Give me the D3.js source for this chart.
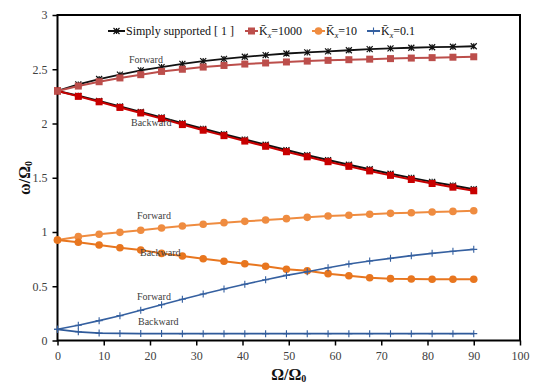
<!DOCTYPE html>
<html><head><meta charset="utf-8">
<script src="https://cdn.jsdelivr.net/npm/d3@7"></script>
<style>
html,body{margin:0;padding:0;background:#fff;}
svg{display:block;font-family:"Liberation Serif","Times New Roman",serif;}
svg text{font-family:"Liberation Serif","Times New Roman",serif;}
</style></head>
<body>
<svg id="chart" width="534" height="384"></svg>
<script>
const xValues = [0,4.5,9,13.5,18,22.5,27,31.5,36,40.5,45,49.5,54,58.5,63,67.5,72,76.5,81,85.5,90];
const xTicks = [0,10,20,30,40,50,60,70,80,90,100];
const yTicks = [0,0.5,1,1.5,2,2.5,3];

const ssForward  = [2.30,2.36,2.41,2.45,2.49,2.52,2.55,2.575,2.595,2.615,2.63,2.645,2.655,2.665,2.675,2.685,2.692,2.698,2.703,2.707,2.712];
const ssBackward = [2.30,2.255,2.207,2.157,2.107,2.056,2.003,1.951,1.901,1.852,1.804,1.755,1.708,1.663,1.62,1.578,1.537,1.499,1.462,1.428,1.395];
const k1000Forward  = [2.30,2.345,2.385,2.42,2.45,2.48,2.50,2.52,2.535,2.548,2.558,2.567,2.575,2.582,2.588,2.593,2.598,2.603,2.607,2.611,2.615];
const k1000Backward = [2.30,2.25,2.20,2.148,2.097,2.045,1.99,1.938,1.888,1.838,1.79,1.74,1.693,1.648,1.605,1.563,1.522,1.484,1.447,1.413,1.38];
const k10Forward  = [0.926,0.957,0.979,0.997,1.016,1.037,1.055,1.071,1.086,1.098,1.11,1.123,1.135,1.147,1.154,1.163,1.172,1.178,1.184,1.19,1.196];
const k10Backward = [0.926,0.905,0.88,0.855,0.834,0.803,0.779,0.754,0.73,0.708,0.684,0.656,0.643,0.616,0.597,0.579,0.57,0.567,0.564,0.564,0.564];
const k01Forward  = [0.103,0.14,0.183,0.229,0.278,0.33,0.38,0.429,0.475,0.518,0.56,0.6,0.634,0.671,0.705,0.733,0.757,0.782,0.803,0.822,0.84];
const k01Backward = [0.103,0.08,0.068,0.065,0.064,0.064,0.063,0.063,0.063,0.063,0.063,0.063,0.063,0.063,0.063,0.063,0.063,0.063,0.063,0.063,0.063];

const legendLabels = ["Simply supported [ 1 ]", "1000", "10", "0.1"];

const svg = d3.select("#chart");
const L = 57.5, R = 520, T = 15, B = 340.5;
const x = d3.scaleLinear().domain([0,100]).range([L,R]);
const y = d3.scaleLinear().domain([0,3]).range([B,T]);

// axes
const xAxis = svg.append("g").attr("transform",`translate(0,${B})`)
  .call(d3.axisBottom(x).tickValues(xTicks).tickSize(5).tickPadding(6).tickFormat(d3.format("~g")));
const yAxis = svg.append("g").attr("transform",`translate(${L},0)`)
  .call(d3.axisLeft(y).tickValues(yTicks).tickSize(5).tickPadding(5).tickFormat(d3.format("~g")));
[xAxis,yAxis].forEach(g=>{
  g.attr("font-family","Liberation Serif").attr("font-size",12);
  g.select(".domain").remove();
  g.selectAll(".tick line").attr("stroke","#000").attr("stroke-width",1.5);
  g.selectAll(".tick text").attr("font-family","Liberation Serif").attr("font-size",12).attr("fill","#404040");
});

// frame
svg.append("rect").attr("x",L).attr("y",T).attr("width",R-L).attr("height",B-T)
  .attr("fill","none").attr("stroke","#000").attr("stroke-width",2);

const line = d3.line().x((d,i)=>x(xValues[i])).y(d=>y(d));

function starPath(s){ return `M${-s},${-s}L${s},${s}M${-s},${s}L${s},${-s}M0,${-s}L0,${s}`; }
function plusPath(s){ return `M${-s},0L${s},0M0,${-s}L0,${s}`; }

function drawSeries(data, color, width, marker){
  svg.append("path").datum(data).attr("d",line).attr("fill","none")
    .attr("stroke",color).attr("stroke-width",width);
  const g = svg.append("g");
  data.forEach((d,i)=>{
    const cx = x(xValues[i]), cy = y(d);
    if(marker==="star"){
      g.append("path").attr("d",starPath(3)).attr("transform",`translate(${cx},${cy})`)
        .attr("stroke",color).attr("stroke-width",1.2).attr("fill","none");
    } else if(marker==="square"){
      g.append("rect").attr("x",cx-3.5).attr("y",cy-3.5).attr("width",7).attr("height",7).attr("fill",color);
    } else if(marker==="circle"){
      g.append("circle").attr("cx",cx).attr("cy",cy).attr("r",3.8).attr("fill",color);
    } else if(marker==="plus"){
      g.append("path").attr("d",plusPath(3.5)).attr("transform",`translate(${cx},${cy})`)
        .attr("stroke",color).attr("stroke-width",1.1).attr("fill","none");
    }
  });
}

drawSeries(ssBackward,"#111",2,"star");
drawSeries(ssForward,"#111",1.8,"star");
drawSeries(k1000Backward,"#C80000",2,"square");
drawSeries(k1000Forward,"#BC4E4B",2,"square");
drawSeries(k10Forward,"#EF8C40",2,"circle");
drawSeries(k10Backward,"#E8761F",2,"circle");
drawSeries(k01Forward,"#3560A0",1.6,"plus");
drawSeries(k01Backward,"#2F5A9A",1.8,"plus");

// in-plot labels
const notes = [
  {t:"Forward", x:129, y:63},
  {t:"Backward", x:131, y:126},
  {t:"Forward", x:137, y:219},
  {t:"Backward", x:140, y:256},
  {t:"Forward", x:137, y:300},
  {t:"Backward", x:138, y:325}
];
notes.forEach(n=>svg.append("text").attr("x",n.x).attr("y",n.y).attr("font-size",10)
  .attr("fill","#404040").text(n.t));

// legend
const ly = 31;
const legend = [
  {c:"#111", m:"star", x1:108, x2:125, tx:126},
  {c:"#BC4E4B", m:"square", x1:245, x2:258, tx:259},
  {c:"#EF8C40", m:"circle", x1:312, x2:325, tx:326},
  {c:"#3560A0", m:"plus", x1:367, x2:380, tx:381}
];
legend.forEach((l,i)=>{
  svg.append("line").attr("x1",l.x1).attr("x2",l.x2).attr("y1",ly).attr("y2",ly)
    .attr("stroke",l.c).attr("stroke-width",2);
  const cx=(l.x1+l.x2)/2;
  if(l.m==="star") svg.append("path").attr("d",starPath(3)).attr("transform",`translate(${cx},${ly})`).attr("stroke",l.c).attr("stroke-width",1.2);
  if(l.m==="square") svg.append("rect").attr("x",cx-3.5).attr("y",ly-3.5).attr("width",7).attr("height",7).attr("fill",l.c);
  if(l.m==="circle") svg.append("circle").attr("cx",cx).attr("cy",ly).attr("r",3.8).attr("fill",l.c);
  if(l.m==="plus") svg.append("path").attr("d",plusPath(3.5)).attr("transform",`translate(${cx},${ly})`).attr("stroke",l.c).attr("stroke-width",1.1);
  const t = svg.append("text").attr("x",l.tx).attr("y",ly+4).attr("font-size",12).attr("fill","#111");
  if(i===0){ t.text(legendLabels[0]); }
  else {
    t.append("tspan").text("K\u0304");
    t.append("tspan").attr("font-size",8).attr("font-style","italic").attr("dy",3).text("x");
    t.append("tspan").attr("dy",-3).text("=" + legendLabels[i]);
  }
});

// axis titles
const xt = svg.append("text").attr("x",(L+R)/2).attr("y",380).attr("text-anchor","middle")
  .attr("font-size",16).attr("font-weight","bold").attr("fill","#111");
xt.append("tspan").text("Ω/Ω");
xt.append("tspan").attr("font-size",10).attr("dy",2).text("0");

const yt = svg.append("text").attr("transform",`translate(30,178) rotate(-90)`).attr("text-anchor","middle")
  .attr("font-size",16).attr("font-weight","bold").attr("fill","#111");
yt.append("tspan").text("ω/Ω");
yt.append("tspan").attr("font-size",10).attr("dy",2).text("0");
</script>
</body></html>
